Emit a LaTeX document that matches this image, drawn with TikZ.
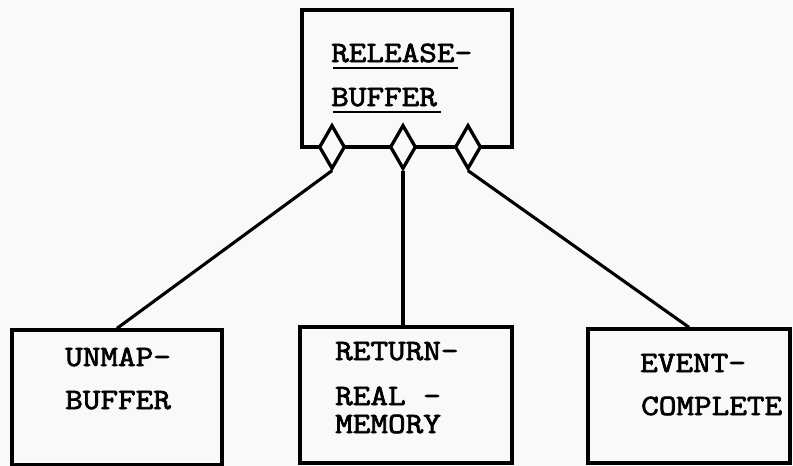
\documentclass[tikz,border=0pt]{standalone}
\usepackage{fontspec}
\newfontfamily\tw[FakeStretch=1.16,FakeBold=2.5]{Latin Modern Mono}
\usetikzlibrary{shapes.geometric}
\definecolor{paper}{RGB}{249,249,249}
\begin{document}
\begin{tikzpicture}[x=1pt,y=-1pt,
  box/.style={draw,line width=3.3pt,rectangle,inner sep=0pt},
  dia/.style={draw,line width=3.3pt,diamond,fill=paper,inner sep=0pt,
              minimum width=26pt,minimum height=44pt},
  conn/.style={line width=3.1pt},
  lbl/.style={anchor=base west,inner sep=0pt,font=\tw\fontsize{29.5}{29.5}\selectfont},
  uline/.style={line width=2.3pt}]
\fill[paper] (0,0) rectangle (793,466);
\useasboundingbox (0,0) rectangle (793,466);

% parent module
\node[box,minimum width=210pt,minimum height=137pt] (rb) at (407,78.5) {};
% sub-modules
\node[box,minimum width=210pt,minimum height=135pt] (ub) at (117,397.5) {};
\node[box,minimum width=212pt,minimum height=136pt] (rm) at (406,395) {};
\node[box,minimum width=202pt,minimum height=134pt] (ec) at (689,396) {};

% connection diamonds on the bottom edge of the parent
\node[dia] (d1) at (332,147) {};
\node[dia] (d2) at (403,147) {};
\node[dia] (d3) at (468,147) {};

\draw[conn] (d1.south) -- (ub.north);
\draw[conn] (d2.south) -- (d2.south |- rm.north);
\draw[conn] (d3.south) -- (ec.north);

% labels (placed by baseline)
\node[lbl] (t1) at (331,62) {RELEASE-};
\node[lbl] (t2) at (331,106) {BUFFER};
\draw[uline] (333,68) -- (458,68);
\draw[uline] (333,112) -- (441,112);

\node[lbl] (u1) at (65,366) {UNMAP-};
\node[lbl] (u2) at (65,409) {BUFFER};

\node[lbl] (r1) at (335,360) {RETURN-};
\node[lbl] (r2) at (335,405) {REAL -};
\node[lbl] (r3) at (335,433) {MEMORY};

\node[lbl] (e1) at (640,372) {EVENT-};
\node[lbl] (e2) at (641,415) {COMPLETE};
\end{tikzpicture}
\end{document}
